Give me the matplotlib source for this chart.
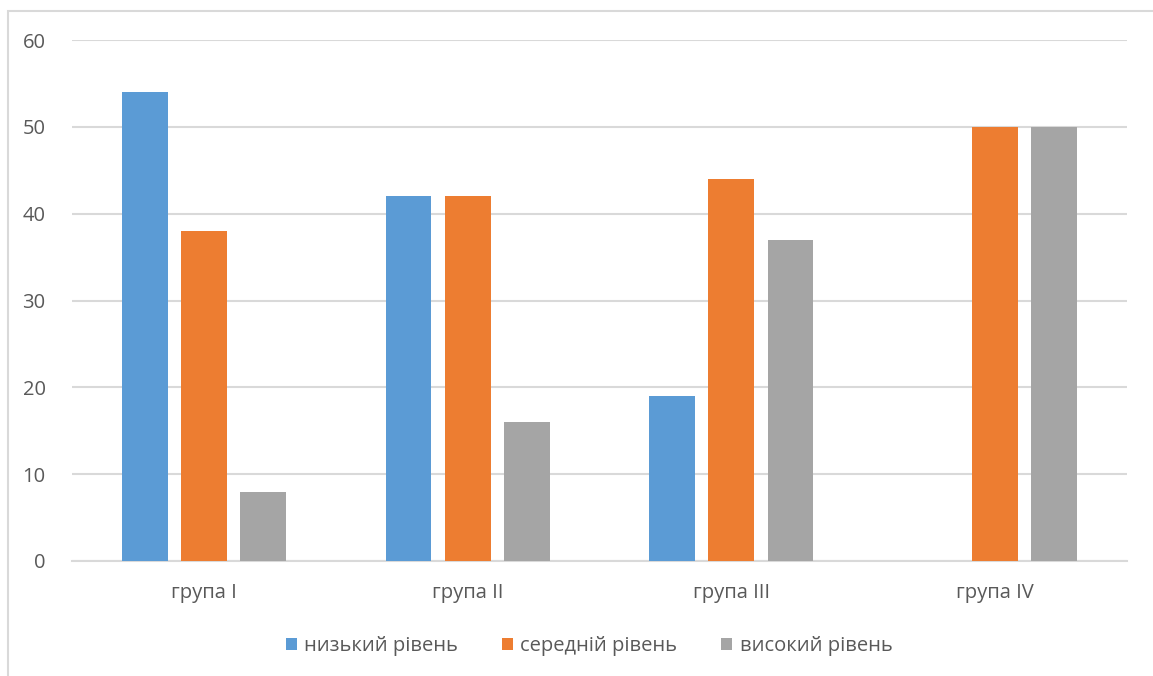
import numpy as np
import matplotlib.pyplot as plt
from matplotlib.patches import Rectangle

plt.rcParams['font.family'] = ['Open Sans', 'Noto Sans', 'DejaVu Sans']

groups = ['група I', 'група II', 'група III', 'група IV']
series = ['низький рівень', 'середній рівень', 'високий рівень']
low = [54, 42, 19, 0]
mid = [38, 42, 44, 50]
high = [8, 16, 37, 50]
y_ticks = [0, 10, 20, 30, 40, 50, 60]

colors = ['#5B9BD5', '#ED7D31', '#A5A5A5']
text_col = '#595959'
grid_col = '#D9D9D9'

W, H = 1153, 676
fig = plt.figure(figsize=(W / 100, H / 100), dpi=100)
fig.patches.append(Rectangle((8 / W, -0.1), 1.2, 1 - 11 / H + 0.1, transform=fig.transFigure,
                             fill=False, edgecolor=grid_col, linewidth=1.5))

ax = fig.add_axes([72 / W, 1 - 561 / H, (1127 - 72) / W, (561 - 40) / H])

x = np.arange(len(groups))
bw = 0.174
step = 0.224
for i, (vals, name) in enumerate(zip([low, mid, high], series)):
    ax.bar(x + (i - 1) * step, vals, width=bw, color=colors[i], label=name, zorder=3)

ax.set_xlim(-0.5, len(groups) - 0.5)
ax.set_ylim(0, 60)
ax.set_yticks(y_ticks)
ax.set_xticks(x)
ax.set_xticklabels(groups)
ax.yaxis.grid(True, color=grid_col, linewidth=1.5, zorder=0)
for s in ['top', 'right', 'left']:
    ax.spines[s].set_visible(False)
ax.spines['bottom'].set_color(grid_col)
ax.spines['bottom'].set_linewidth(1.5)
ax.tick_params(axis='both', length=0, colors=text_col, labelsize=14.5)
ax.tick_params(axis='y', pad=19)
ax.tick_params(axis='x', pad=16)

leg = ax.legend(loc='center', bbox_to_anchor=(0.49, -0.163), ncol=3, frameon=False,
                fontsize=14.5, handlelength=0.55, handleheight=0.55, handletextpad=0.35,
                columnspacing=2.2)
for t in leg.get_texts():
    t.set_color(text_col)

fig.savefig('out.png', dpi=100)
